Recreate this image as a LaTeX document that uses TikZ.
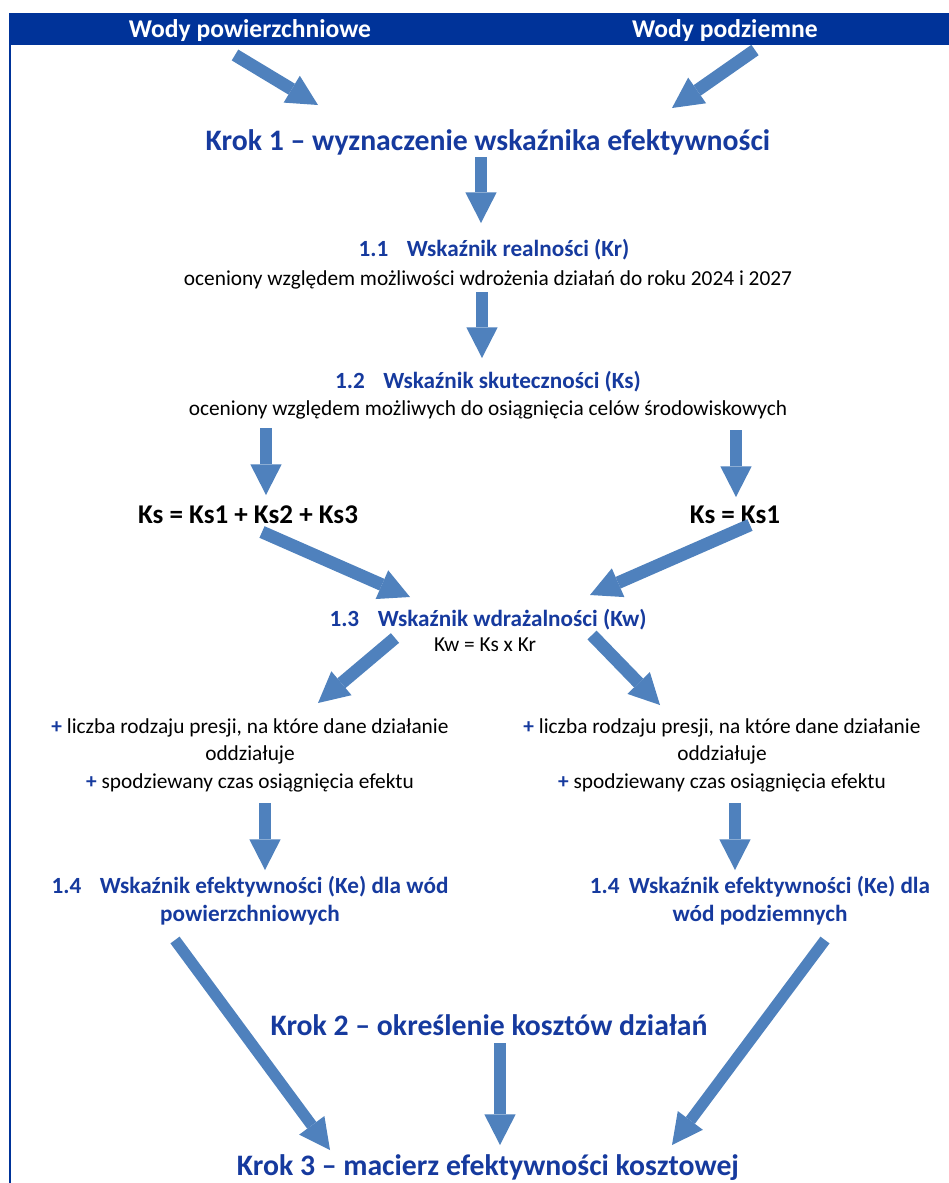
\documentclass[tikz,border=0pt]{standalone}
\usepackage{fontspec}
\setmainfont{Carlito}
\usetikzlibrary{arrows.meta}
\definecolor{barblue}{RGB}{0,51,153}
\definecolor{headblue}{RGB}{22,58,158}
\definecolor{arrowblue}{RGB}{79,129,189}

\begin{document}
\begin{tikzpicture}[x=0.75pt, y=-0.75pt, every node/.style={inner sep=0pt},
  bigarrow/.style={draw=arrowblue, line width=9.5pt, -{Triangle[width=23.5pt,length=23pt,line width=0pt]}},
  longarrow/.style={bigarrow, line width=8.5pt},
  krok/.style={font=\bfseries\fontsize{22.3}{26}\selectfont, text=headblue},
  title/.style={font=\bfseries\fontsize{17.4}{21}\selectfont, text=headblue},
  desc/.style={font=\fontsize{16}{20.6}\selectfont, align=center},
  formula/.style={font=\bfseries\fontsize{20.3}{24}\selectfont},
  water/.style={font=\bfseries\fontsize{19.2}{22}\selectfont, text=white}]

\useasboundingbox (0,0) rectangle (949,1183);

% Header bar
\fill[barblue] (10,13) rectangle (949,45);
\draw[barblue, line width=1.2pt] (10,13) -- (10,1183);
\node[water] (wpow) at (250,31) {Wody powierzchniowe};
\node[water] (wpod) at (725,31) {Wody podziemne};

% Krok 1
\node[krok] (krok1) at (488,142) {Krok 1 -- wyznaczenie wskaźnika efektywności};

% 1.1 and 1.2
\node[title] (kr) at (494,250) {1.1\hspace{0.8em}Wskaźnik realności (Kr)};
\node[desc] (krd) at (488,280) {oceniony względem możliwości wdrożenia działań do roku 2024 i 2027};
\node[title] (ks) at (488,382) {1.2\hspace{0.8em}Wskaźnik skuteczności (Ks)};
\node[desc] (ksd) at (488,410) {oceniony względem możliwych do osiągnięcia celów środowiskowych};

% Ks formulas
\node[formula] (ksl) at (248,515) {Ks = Ks1 + Ks2 + Ks3};
\node[formula] (ksr) at (735,515) {Ks = Ks1};

% 1.3
\node[title] (kw) at (488,620) {1.3\hspace{0.8em}Wskaźnik wdrażalności (Kw)};
\node[desc] (kwd) at (485,645) {Kw = Ks x Kr};

% Additional criteria
\node[desc] (presl) at (250,755) {\textcolor{headblue}{\textbf{+}} liczba rodzaju presji, na które dane działanie\\oddziałuje\\\textcolor{headblue}{\textbf{+}} spodziewany czas osiągnięcia efektu};
\node[desc] (presr) at (722,755) {\textcolor{headblue}{\textbf{+}} liczba rodzaju presji, na które dane działanie\\oddziałuje\\\textcolor{headblue}{\textbf{+}} spodziewany czas osiągnięcia efektu};

% 1.4
\node[title, align=center] (kel) at (250,901) {1.4\hspace{0.8em}Wskaźnik efektywności (Ke) dla wód\\powierzchniowych};
\node[title, align=center] (ker) at (760,901) {1.4\hspace{0.4em}Wskaźnik efektywności (Ke) dla\\wód podziemnych};

% Krok 2 and 3
\node[krok] (krok2) at (489,1025) {Krok 2 -- określenie kosztów działań};
\node[krok] (krok3) at (488,1168) {Krok 3 -- macierz efektywności kosztowej};

% Arrows
\draw[bigarrow] ([shift={(-15,24)}]wpow.center) -- ([shift={(-170,-37)}]krok1.center);
\draw[bigarrow] ([shift={(30,19)}]wpod.center) -- ([shift={(184,-34)}]krok1.center);
\draw[bigarrow] ([shift={(-7,15)}]krok1.center) -- ([shift={(-13,-27)}]kr.center);
\draw[bigarrow] ([shift={(-6,12)}]krd.center) -- ([shift={(-6,-24)}]ks.center);
\draw[bigarrow] ([shift={(-222,18)}]ksd.center) -- ([shift={(18,-20)}]ksl.center);
\draw[bigarrow] ([shift={(248,20)}]ksd.center) -- ([shift={(1,-18)}]ksr.center);
\draw[bigarrow] ([shift={(14,17)}]ksl.center) -- ([shift={(-78,-23)}]kw.center);
\draw[bigarrow] ([shift={(15,10)}]ksr.center) -- ([shift={(102,-25)}]kw.center);
\draw[bigarrow] ([shift={(-93,18)}]kw.center) -- ([shift={(68,-52)}]presl.center);
\draw[bigarrow] ([shift={(104,15)}]kw.center) -- ([shift={(-62,-50)}]presr.center);
\draw[bigarrow] ([shift={(15,48)}]presl.center) -- ([shift={(15,-31)}]kel.center);
\draw[bigarrow] ([shift={(13,48)}]presr.center) -- ([shift={(-25,-31)}]ker.center);
\draw[longarrow] ([shift={(-75,39)}]kel.center) -- ([shift={(-158,-18)}]krok3.center);
\draw[longarrow] ([shift={(65,39)}]ker.center) -- ([shift={(184,-23)}]krok3.center);
\draw[longarrow] ([shift={(11,18)}]krok2.center) -- ([shift={(12,-23)}]krok3.center);

\end{tikzpicture}
\end{document}
